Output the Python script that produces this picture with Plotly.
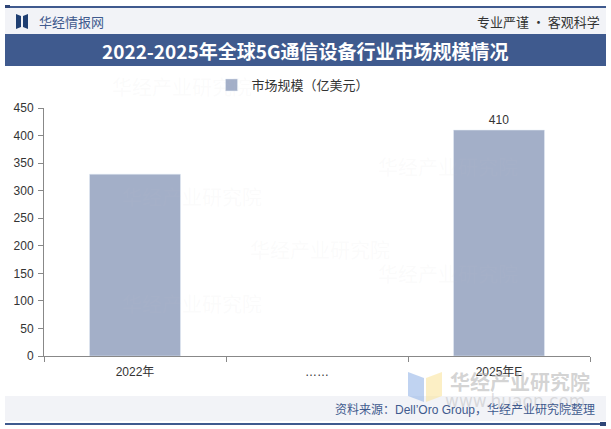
import plotly.graph_objects as go

categories = ["2022年", "……", "2025年E"]
values = [330, None, 410]
labels = ["", "", "410"]
series_name = "市场规模（亿美元）"
title = "2022-2025年全球5G通信设备行业市场规模情况"
source = "资料来源：Dell’Oro Group，华经产业研究院整理"

W, H = 611, 429
L, R, T, B = 44, 590, 108, 356

def px(x):
    return (x - L) / (R - L)

def py(y):
    return (B - y) / (B - T)

FONT = "Noto Sans CJK SC"
MIXED = "Liberation Sans, Noto Sans CJK SC"
DARK = "#3F5A8E"

fig = go.Figure()
fig.add_trace(go.Bar(
    x=categories, y=values, name=series_name,
    marker=dict(color="#A3AFC8"), width=0.5,
    text=labels, textposition="outside",
    textfont=dict(size=12, color="#333333", family="Liberation Sans"),
    cliponaxis=False,
))

shapes = []
def rect(x0, y0, x1, y1, color, layer="below"):
    shapes.append(dict(type="rect", xref="paper", yref="paper",
                       x0=px(x0), x1=px(x1), y0=py(y0), y1=py(y1),
                       fillcolor=color, line=dict(width=0), layer=layer))

# header
rect(5, 6, 606, 8, DARK)
rect(5, 5, 10, 9, "#2E4677")
rect(5, 8, 606, 34, "#F2F3F7")
rect(5, 34, 606, 66, DARK)
# logo icon
shapes.append(dict(type="path", xref="paper", yref="paper",
                   path=f"M {px(16)},{py(14)} L {px(21)},{py(16)} L {px(21)},{py(27)} L {px(16)},{py(29)} Z",
                   fillcolor="#1F3F72", line=dict(width=0)))
shapes.append(dict(type="path", xref="paper", yref="paper",
                   path=f"M {px(28)},{py(14)} L {px(23)},{py(16)} L {px(23)},{py(27)} L {px(28)},{py(29)} Z",
                   fillcolor="#1F3F72", line=dict(width=0)))
# footer
rect(5, 396, 606, 421, "#F2F3F7")
rect(5, 423, 606, 425, DARK)
rect(600, 422, 606, 426, "#2E4677")
# watermark logo bottom right
shapes.append(dict(type="path", xref="paper", yref="paper",
                   path=f"M {px(408)},{py(372)} L {px(424)},{py(378)} L {px(424)},{py(402)} L {px(408)},{py(396)} Z",
                   fillcolor="rgba(140,175,230,0.55)", line=dict(width=0)))
shapes.append(dict(type="path", xref="paper", yref="paper",
                   path=f"M {px(426)},{py(378)} L {px(442)},{py(372)} L {px(442)},{py(396)} L {px(426)},{py(402)} Z",
                   fillcolor="rgba(250,225,150,0.55)", line=dict(width=0)))

annotations = [
    dict(text="华经情报网", x=px(37), y=py(21), xanchor="left", yanchor="middle",
         font=dict(size=13, color="#3F5A8E", family=FONT)),
    dict(text="专业严谨 • 客观科学", x=px(602), y=py(21), xanchor="right", yanchor="middle",
         font=dict(size=13, color="#333333", family=FONT)),
    dict(text=f"<b>{title}</b>", x=px(305.5), y=py(50), xanchor="center", yanchor="middle",
         font=dict(size=19, color="#FFFFFF", family=FONT)),
    dict(text="<b>华经产业研究院</b>", x=px(520), y=py(381), xanchor="center", yanchor="middle",
         font=dict(size=20, color="rgba(175,175,175,0.55)", family=FONT)),
    dict(text="www.huaon.com", x=px(515), y=py(401), xanchor="center", yanchor="middle",
         font=dict(size=17, color="rgba(175,175,175,0.4)", family="DejaVu Sans")),
    dict(text=source, x=px(597), y=py(409), xanchor="right", yanchor="middle",
         font=dict(size=12, color="#3F5A8E", family=MIXED)),
]
for a in annotations:
    a.update(xref="paper", yref="paper", showarrow=False)

# faint watermarks in plot area
for (wx, wy) in [(120, 180), (120, 320), (320, 250), (520, 150), (520, 290), (110, 70)]:
    annotations.append(dict(text="华经产业研究院", x=px(wx), y=py(wy), xref="paper", yref="paper",
                            showarrow=False, font=dict(size=20, color="rgba(200,200,200,0.08)", family=FONT)))

fig.update_layout(
    width=W, height=H,
    margin=dict(l=L, r=W - R, t=T, b=H - B, pad=0),
    paper_bgcolor="white", plot_bgcolor="rgba(0,0,0,0)",
    showlegend=True,
    legend=dict(orientation="h", x=px(293), xanchor="center", y=py(85), yanchor="middle",
                font=dict(size=13, color="#333333", family=FONT), itemwidth=30,
                bgcolor="rgba(0,0,0,0)"),
    shapes=shapes, annotations=annotations,
    bargap=0.5,
    xaxis=dict(showline=True, linecolor="#888888", linewidth=1, ticks="outside",
               tickson="boundaries", ticklen=5, tickcolor="#888888", ticklabelstandoff=5,
               tickfont=dict(size=12, color="#333333", family=MIXED), showgrid=False),
    yaxis=dict(range=[0, 450], dtick=50, showline=True, linecolor="#888888", linewidth=1,
               ticks="outside", ticklen=5, tickcolor="#888888", showgrid=False, zeroline=False,
               ticklabelstandoff=2,
               tickfont=dict(size=12, color="#333333", family="Liberation Sans")),
)

fig.write_html("out.html", config={"displayModeBar": False},
               post_script="document.body.style.margin='0';document.body.style.padding='0';")
